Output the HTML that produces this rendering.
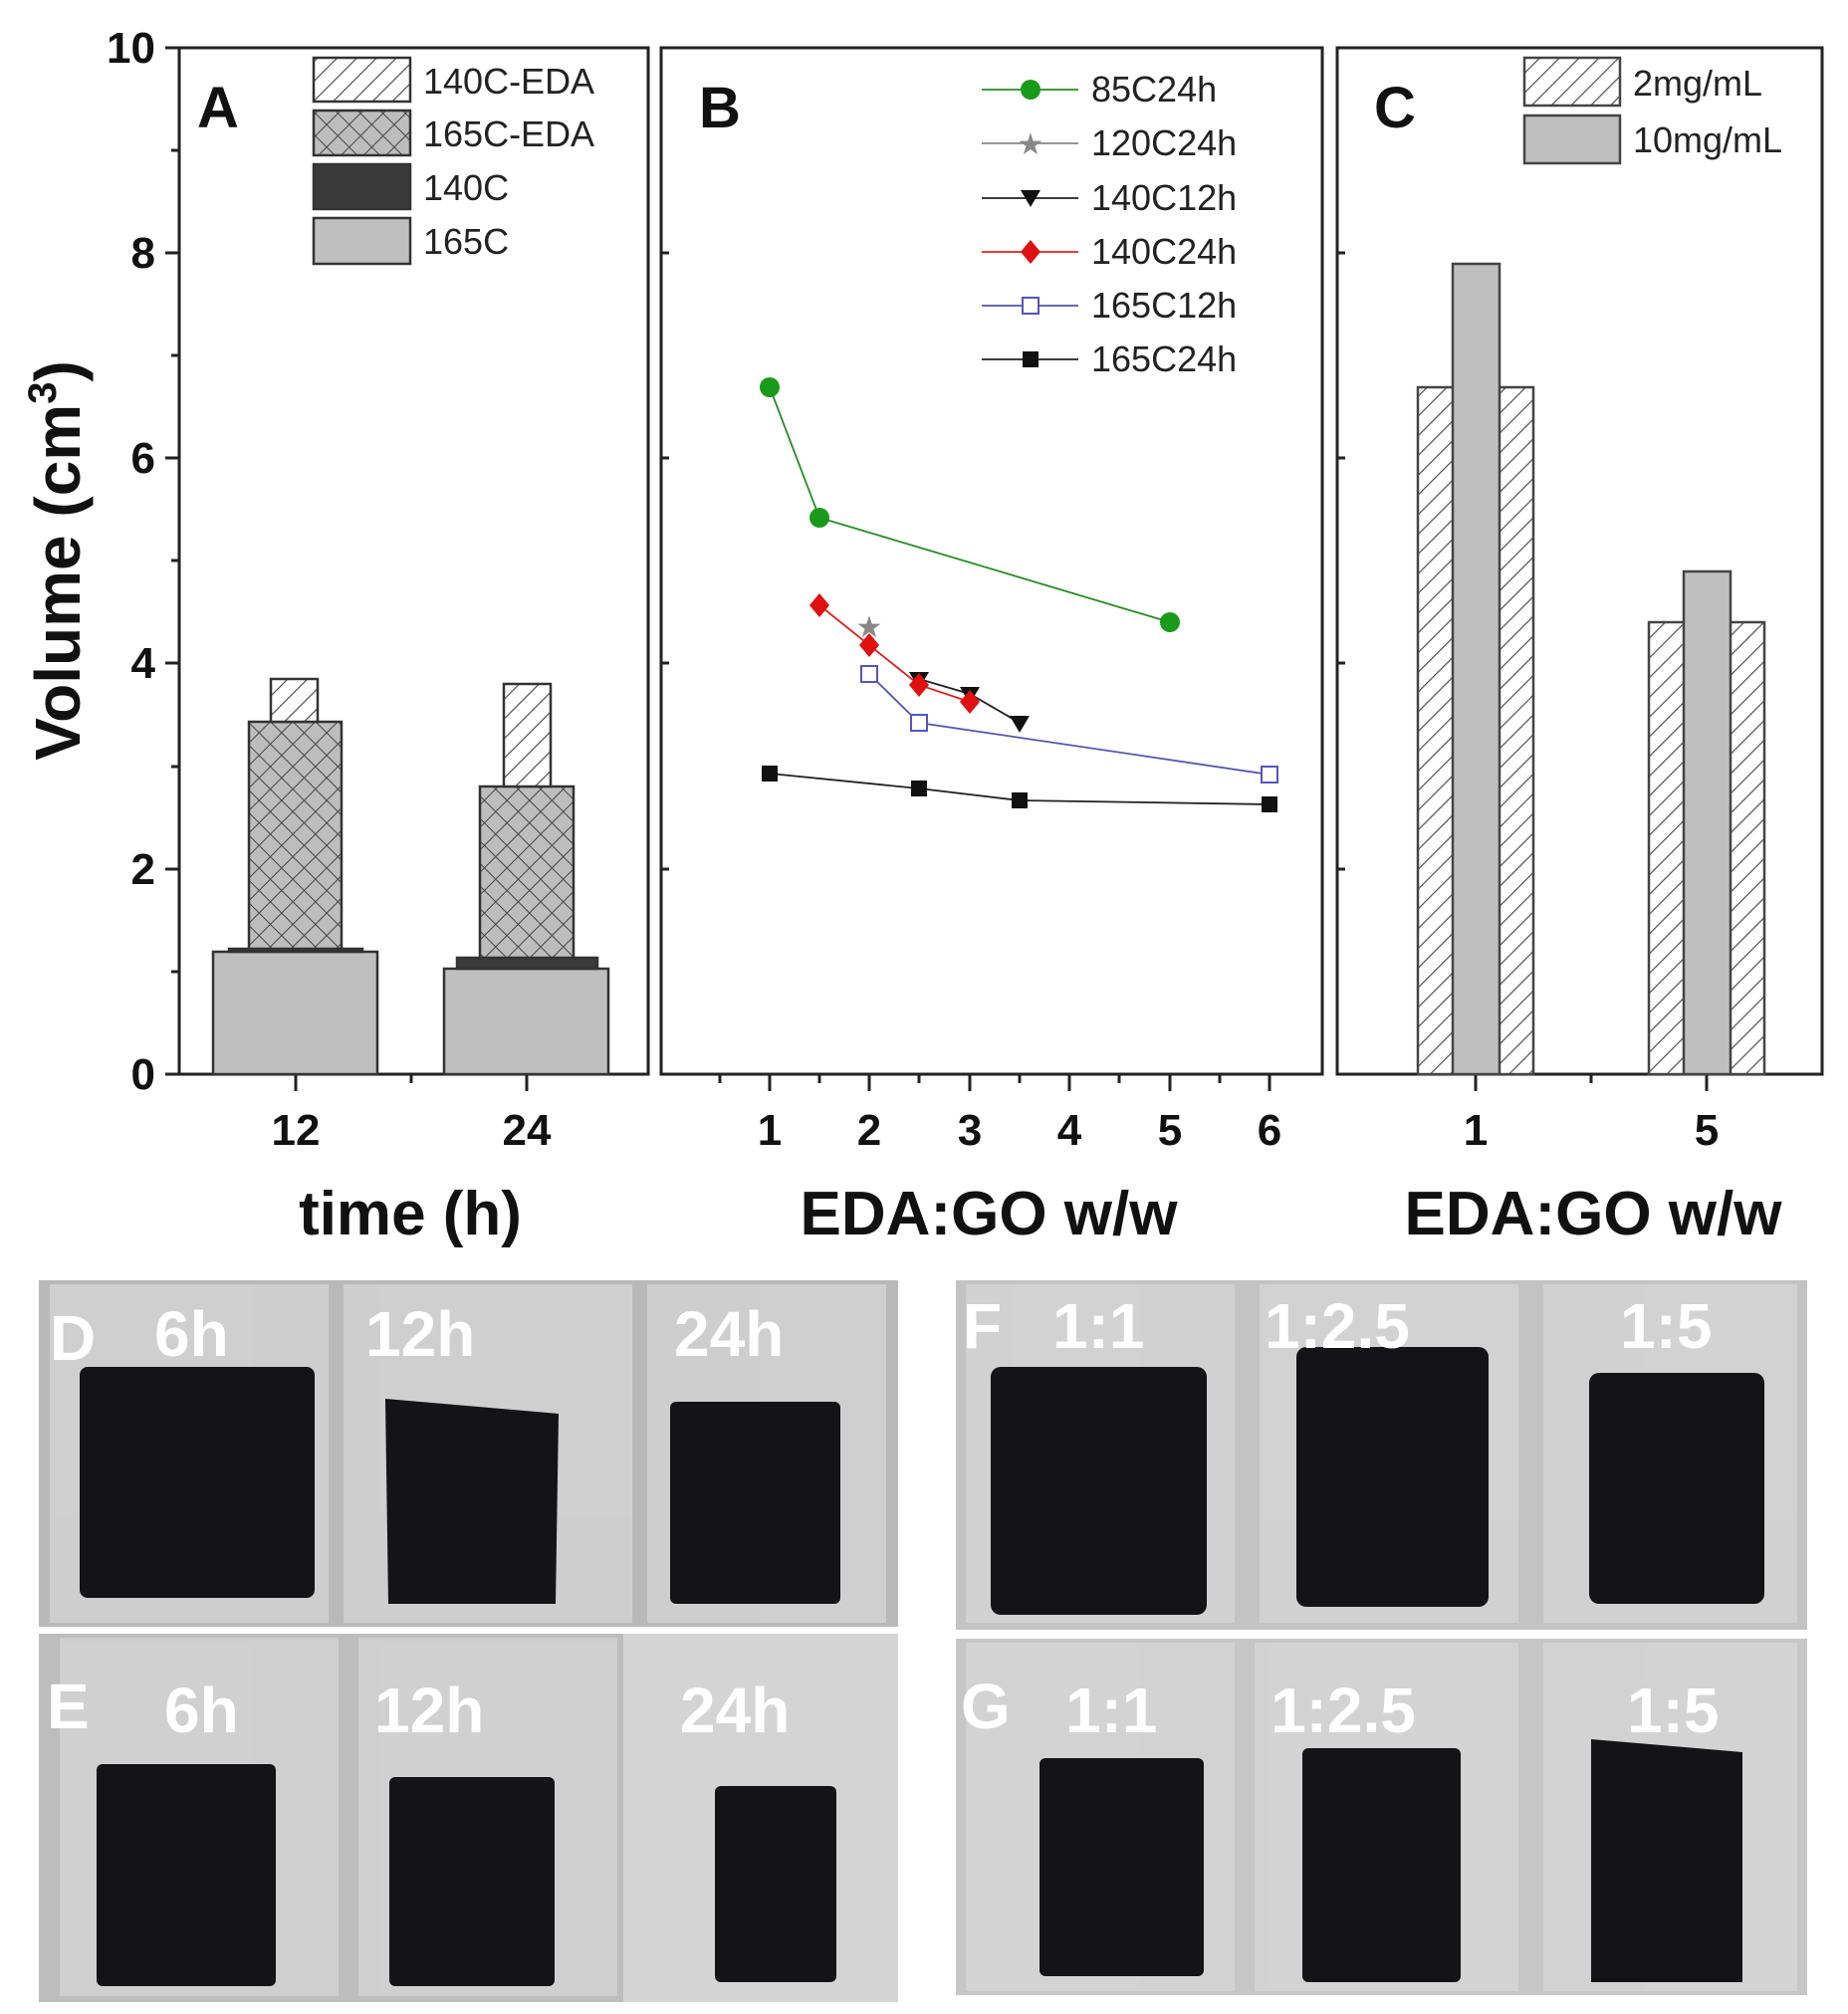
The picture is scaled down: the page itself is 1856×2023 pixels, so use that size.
<!DOCTYPE html>
<html><head><meta charset="utf-8"><style>
html,body{margin:0;padding:0;background:#fff}
svg{display:block}
text{font-family:"Liberation Sans",Arial,sans-serif}
</style></head><body>
<svg width="1856" height="2023" viewBox="0 0 1856 2023" xmlns="http://www.w3.org/2000/svg">
<defs>
<pattern id="hatch" width="14" height="14" patternUnits="userSpaceOnUse" patternTransform="rotate(45)">
<rect width="14" height="14" fill="#fff"/><line x1="0" y1="0" x2="0" y2="14" stroke="#555" stroke-width="2.5"/></pattern>
<pattern id="cross" width="16" height="16" patternUnits="userSpaceOnUse" patternTransform="rotate(45)">
<rect width="16" height="16" fill="#bdbdbd"/><line x1="0" y1="0" x2="0" y2="16" stroke="#444" stroke-width="2"/><line x1="0" y1="0" x2="16" y2="0" stroke="#444" stroke-width="2"/></pattern>
</defs>
<rect width="1856" height="2023" fill="#fff"/>

<!-- Panel frames -->
<g fill="none" stroke="#222" stroke-width="3">
<rect x="180" y="48" width="471" height="1031"/>
<rect x="664" y="48" width="664" height="1031"/>
<rect x="1343" y="48" width="487" height="1031"/>
</g>
<!-- y ticks -->
<g stroke="#222" stroke-width="3">
<line x1="166" y1="48" x2="180" y2="48"/><line x1="166" y1="254" x2="180" y2="254"/><line x1="166" y1="460" x2="180" y2="460"/><line x1="166" y1="666" x2="180" y2="666"/><line x1="166" y1="873" x2="180" y2="873"/><line x1="166" y1="1079" x2="180" y2="1079"/>
<line x1="172" y1="151" x2="180" y2="151"/><line x1="172" y1="357" x2="180" y2="357"/><line x1="172" y1="563" x2="180" y2="563"/><line x1="172" y1="770" x2="180" y2="770"/><line x1="172" y1="976" x2="180" y2="976"/>
<line x1="664" y1="254" x2="672" y2="254"/><line x1="664" y1="460" x2="672" y2="460"/><line x1="664" y1="666" x2="672" y2="666"/><line x1="664" y1="873" x2="672" y2="873"/>
<line x1="1343" y1="254" x2="1351" y2="254"/><line x1="1343" y1="460" x2="1351" y2="460"/><line x1="1343" y1="666" x2="1351" y2="666"/><line x1="1343" y1="873" x2="1351" y2="873"/>
<!-- x ticks A -->
<line x1="297" y1="1079" x2="297" y2="1096"/><line x1="529" y1="1079" x2="529" y2="1096"/><line x1="413" y1="1079" x2="413" y2="1088"/>
<!-- x ticks B -->
<line x1="773" y1="1079" x2="773" y2="1096"/><line x1="873" y1="1079" x2="873" y2="1096"/><line x1="974" y1="1079" x2="974" y2="1096"/><line x1="1074" y1="1079" x2="1074" y2="1096"/><line x1="1175" y1="1079" x2="1175" y2="1096"/><line x1="1275" y1="1079" x2="1275" y2="1096"/>
<line x1="723" y1="1079" x2="723" y2="1088"/><line x1="823" y1="1079" x2="823" y2="1088"/><line x1="923" y1="1079" x2="923" y2="1088"/><line x1="1024" y1="1079" x2="1024" y2="1088"/><line x1="1124" y1="1079" x2="1124" y2="1088"/><line x1="1225" y1="1079" x2="1225" y2="1088"/>
<!-- x ticks C -->
<line x1="1482" y1="1079" x2="1482" y2="1096"/><line x1="1714" y1="1079" x2="1714" y2="1096"/><line x1="1598" y1="1079" x2="1598" y2="1088"/>
</g>
<!-- y tick labels -->
<g font-size="44" font-weight="bold" text-anchor="end" fill="#111">
<text x="156" y="63">10</text><text x="156" y="269">8</text><text x="156" y="475">6</text><text x="156" y="681">4</text><text x="156" y="888">2</text><text x="156" y="1094">0</text>
</g>
<text transform="translate(80,563) rotate(-90)" font-size="64" font-weight="bold" text-anchor="middle" fill="#111">Volume (cm<tspan font-size="40" dy="-24">3</tspan><tspan dy="24">)</tspan></text>
<!-- x tick labels -->
<g font-size="44" font-weight="bold" text-anchor="middle" fill="#111">
<text x="297" y="1150">12</text><text x="529" y="1150">24</text>
<text x="773" y="1150">1</text><text x="873" y="1150">2</text><text x="974" y="1150">3</text><text x="1074" y="1150">4</text><text x="1175" y="1150">5</text><text x="1275" y="1150">6</text>
<text x="1482" y="1150">1</text><text x="1714" y="1150">5</text>
</g>
<g font-size="62" font-weight="bold" text-anchor="middle" fill="#111">
<text x="412" y="1240">time (h)</text><text x="993" y="1240">EDA:GO w/w</text><text x="1600" y="1240">EDA:GO w/w</text>
</g>
<g font-size="58" font-weight="bold" fill="#111">
<text x="198" y="128">A</text><text x="702" y="128">B</text><text x="1380" y="128">C</text>
</g>

<!-- Panel A bars -->
<g stroke="#333" stroke-width="2.5">
<rect x="214" y="956" width="165" height="123" fill="#bfbfbf"/>
<rect x="230" y="953" width="134" height="3" fill="#333"/>
<rect x="250" y="725" width="93" height="228" fill="url(#cross)"/>
<rect x="272" y="682" width="47" height="43" fill="url(#hatch)"/>
<rect x="446" y="973" width="165" height="106" fill="#bfbfbf"/>
<rect x="459" y="962" width="141" height="11" fill="#3a3a3a"/>
<rect x="482" y="790" width="94" height="172" fill="url(#cross)"/>
<rect x="506" y="687" width="47" height="103" fill="url(#hatch)"/>
</g>
<!-- Legend A -->
<g stroke="#333" stroke-width="2.5">
<rect x="315" y="58" width="97" height="44" fill="url(#hatch)"/>
<rect x="315" y="111" width="97" height="45" fill="url(#cross)"/>
<rect x="315" y="165" width="97" height="45" fill="#3a3a3a"/>
<rect x="315" y="219" width="97" height="46" fill="#bfbfbf"/>
</g>
<g font-size="36" fill="#222">
<text x="425" y="94">140C-EDA</text><text x="425" y="147">165C-EDA</text><text x="425" y="201">140C</text><text x="425" y="255">165C</text>
</g>

<!-- Panel B series -->
<g fill="none" stroke-width="1.8">
<polyline points="773,389 823,520 1175,625" stroke="#2a8a2a"/>
<polyline points="923,682 974,697 1024,726" stroke="#222"/>
<polyline points="823,608 873,648 923,688 974,705" stroke="#d22"/>
<polyline points="873,677 923,726 1275,778" stroke="#5555aa"/>
<polyline points="773,777 923,792 1024,804 1275,808" stroke="#222"/>
</g>
<g fill="#1a9a1a"><circle cx="773" cy="389" r="10"/><circle cx="823" cy="520" r="10"/><circle cx="1175" cy="625" r="10"/></g>
<text x="873" y="640" font-size="30" fill="#888" text-anchor="middle">★</text>
<g fill="#111"><polygon points="913,675 933,675 923,692"/><polygon points="964,690 984,690 974,707"/><polygon points="1014,719 1034,719 1024,736"/></g>
<g fill="#e01010"><polygon points="823,596 833,608 823,620 813,608"/><polygon points="873,636 883,648 873,660 863,648"/><polygon points="923,676 933,688 923,700 913,688"/><polygon points="974,693 984,705 974,717 964,705"/></g>
<g fill="#fff" stroke="#5555bb" stroke-width="2"><rect x="865" y="669" width="16" height="16"/><rect x="915" y="718" width="16" height="16"/><rect x="1267" y="770" width="16" height="16"/></g>
<g fill="#111"><rect x="765" y="769" width="16" height="16"/><rect x="915" y="784" width="16" height="16"/><rect x="1016" y="796" width="16" height="16"/><rect x="1267" y="800" width="16" height="16"/></g>
<!-- Legend B -->
<g stroke-width="1.8">
<line x1="986" y1="90" x2="1083" y2="90" stroke="#2a8a2a"/>
<line x1="986" y1="144" x2="1083" y2="144" stroke="#888"/>
<line x1="986" y1="199" x2="1083" y2="199" stroke="#222"/>
<line x1="986" y1="253" x2="1083" y2="253" stroke="#d22"/>
<line x1="986" y1="307" x2="1083" y2="307" stroke="#5555aa"/>
<line x1="986" y1="361" x2="1083" y2="361" stroke="#222"/>
</g>
<circle cx="1035" cy="90" r="10" fill="#1a9a1a"/>
<text x="1035" y="155" font-size="30" fill="#888" text-anchor="middle">★</text>
<polygon points="1025,191 1045,191 1035,208" fill="#111"/>
<polygon points="1035,241 1045,253 1035,265 1025,253" fill="#e01010"/>
<rect x="1027" y="299" width="16" height="16" fill="#fff" stroke="#5555bb" stroke-width="2"/>
<rect x="1027" y="353" width="16" height="16" fill="#111"/>
<g font-size="36" fill="#222">
<text x="1096" y="102">85C24h</text><text x="1096" y="156">120C24h</text><text x="1096" y="211">140C12h</text><text x="1096" y="265">140C24h</text><text x="1096" y="319">165C12h</text><text x="1096" y="373">165C24h</text>
</g>

<!-- Panel C -->
<g stroke="#444" stroke-width="2.5">
<rect x="1424" y="389" width="116" height="690" fill="url(#hatch)"/>
<rect x="1459" y="265" width="47" height="814" fill="#bfbfbf"/>
<rect x="1656" y="625" width="116" height="454" fill="url(#hatch)"/>
<rect x="1691" y="574" width="47" height="505" fill="#bfbfbf"/>
<rect x="1531" y="58" width="96" height="48" fill="url(#hatch)"/>
<rect x="1531" y="116" width="96" height="48" fill="#bfbfbf"/>
</g>
<g font-size="36" fill="#222"><text x="1640" y="96">2mg/mL</text><text x="1640" y="153">10mg/mL</text></g>

<!-- Photos -->
<g>
<rect x="39" y="1286" width="863" height="348" fill="#b9b9b9"/>
<rect x="39" y="1641" width="863" height="370" fill="#bdbdbd"/>
<rect x="626" y="1641" width="276" height="370" fill="#d4d4d4"/>
<rect x="960" y="1286" width="855" height="351" fill="#c3c3c3"/>
<rect x="960" y="1646" width="855" height="358" fill="#c6c6c6"/>
<g fill="#d8d8d8" opacity="0.7">
<rect x="50" y="1290" width="280" height="340"/><rect x="345" y="1290" width="290" height="340"/><rect x="650" y="1290" width="240" height="340"/>
<rect x="60" y="1645" width="280" height="360"/><rect x="360" y="1645" width="260" height="360"/>
<rect x="970" y="1290" width="270" height="340"/><rect x="1265" y="1290" width="260" height="340"/><rect x="1550" y="1290" width="255" height="340"/>
<rect x="970" y="1650" width="270" height="350"/><rect x="1260" y="1650" width="265" height="350"/><rect x="1550" y="1650" width="255" height="350"/>
</g>
<g fill="#141417">
<rect x="80" y="1373" width="236" height="232" rx="8"/>
<polygon points="387,1405 561,1420 558,1611 390,1611"/>
<rect x="673" y="1408" width="171" height="203" rx="6"/>
<rect x="97" y="1772" width="180" height="223" rx="6"/>
<rect x="391" y="1785" width="166" height="210" rx="6"/>
<rect x="718" y="1794" width="122" height="197" rx="6"/>
<rect x="995" y="1373" width="217" height="249" rx="10"/>
<rect x="1302" y="1353" width="193" height="261" rx="10"/>
<rect x="1596" y="1379" width="176" height="232" rx="10"/>
<rect x="1044" y="1766" width="165" height="219" rx="6"/>
<rect x="1308" y="1756" width="159" height="235" rx="6"/>
<polygon points="1598,1747 1750,1760 1750,1991 1598,1991"/>
</g>
<g fill="#fff" font-size="64" font-weight="bold">
<text x="50" y="1366">D</text><text x="155" y="1362">6h</text><text x="367" y="1362">12h</text><text x="677" y="1362">24h</text>
<text x="47" y="1736">E</text><text x="165" y="1740">6h</text><text x="376" y="1740">12h</text><text x="683" y="1740">24h</text>
<text x="967" y="1354">F</text><text x="1057" y="1354">1:1</text><text x="1270" y="1354">1:2.5</text><text x="1627" y="1354">1:5</text>
<text x="965" y="1736">G</text><text x="1070" y="1740">1:1</text><text x="1276" y="1740">1:2.5</text><text x="1634" y="1740">1:5</text>
</g>
</g>
</svg>
</body></html>
